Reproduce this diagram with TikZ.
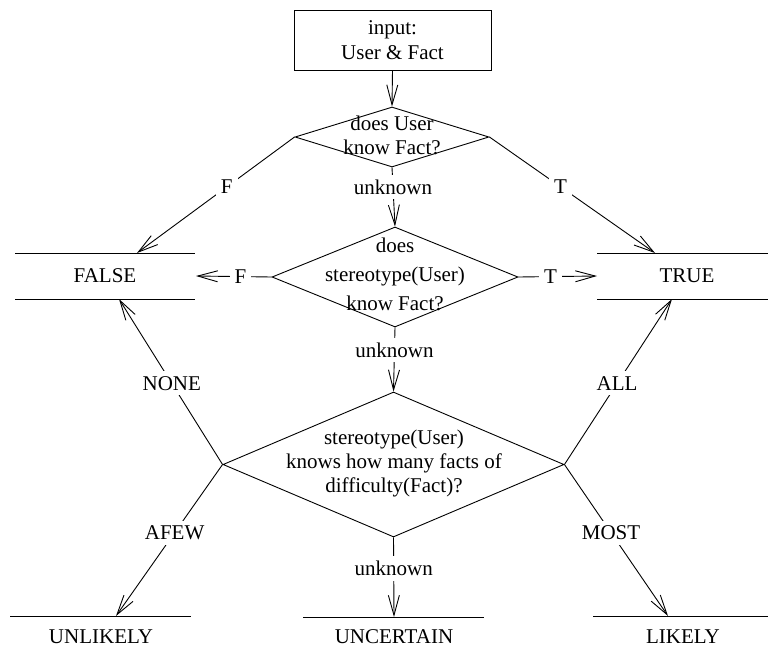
\documentclass[tikz,border=0pt]{standalone}
\usepackage{fontspec}
\setmainfont{Liberation Serif}
\usetikzlibrary{arrows.meta,shapes.geometric}
\begin{document}
\begin{tikzpicture}[x=1pt,y=-1pt,
  every node/.style={font=\fontsize{21}{24}\selectfont},
  ln/.style={line width=0.9pt},
  arr/.style={ln,-{Straight Barb[length=20pt,width=11pt]}},
  dia/.style={draw,ln,diamond,inner sep=0pt},
  txt/.style={align=center,inner sep=0pt},
  lbl/.style={fill=white,inner sep=5pt},
  outc/.style={inner sep=0pt}]
\useasboundingbox (0,0) rectangle (768,659);

% input box
\node[draw,ln,minimum width=197pt,minimum height=60pt,align=center,inner sep=0pt,
  font=\fontsize{21}{25}\selectfont] (inp) at (392.5,40) {input:\\User \& Fact};

% diamonds
\node[dia,minimum width=194pt,minimum height=60pt] (d1) at (392,137) {};
\node[txt] (d1t) at (392,135) {does User\\know Fact?};

\node[dia,minimum width=246pt,minimum height=100pt] (d2) at (395,277) {};
\node[txt,font=\fontsize{21}{29}\selectfont] (d2t) at (395,274) {does\\stereotype(User)\\know Fact?};

\node[dia,minimum width=341pt,minimum height=145pt] (d3) at (393.5,464.5) {};
\node[txt] (d3t) at (394,463) {stereotype(User)\\knows how many facts of\\difficulty(Fact)?};

% outcomes
\node[outc] (fal) at (105,276) {FALSE};
\node[outc] (tru) at (687,276) {TRUE};
\node[outc] (unl) at (101,637) {UNLIKELY};
\node[outc] (unc) at (394,637) {UNCERTAIN};
\node[outc] (lik) at (683,637) {LIKELY};

\coordinate (falTL) at (15,253);  \coordinate (falTR) at (195,253);
\coordinate (falBL) at (15,299);  \coordinate (falBR) at (195,299);
\coordinate (truTL) at (597,253); \coordinate (truTR) at (768,253);
\coordinate (truBL) at (597,299); \coordinate (truBR) at (768,299);
\coordinate (unlL) at (10,616);   \coordinate (unlR) at (191,616);
\coordinate (uncL) at (303,617);  \coordinate (uncR) at (484,617);
\coordinate (likL) at (593,616);  \coordinate (likR) at (768,616);

\draw[ln] (falTL) -- (falTR);
\draw[ln] (falBL) -- (falBR);
\draw[ln] (truTL) -- (truTR);
\draw[ln] (truBL) -- (truBR);
\draw[ln] (unlL) -- (unlR);
\draw[ln] (uncL) -- (uncR);
\draw[ln] (likL) -- (likR);

% connector end points
\coordinate (falT) at (137,253);
\coordinate (falB) at (119,299);
\coordinate (falE) at (196,276);
\coordinate (truT) at (655,253);
\coordinate (truB) at (672,299);
\coordinate (truW) at (597,276);
\coordinate (unlT) at (116,616);
\coordinate (uncT) at (394,617);
\coordinate (likT) at (668,616);

% connectors
\draw[arr] (inp.south) -- (d1.north);
\draw[arr] (d1.south) -- node[lbl,pos=0.33] (l1) {unknown} (d2.north);
\draw[arr] (d1.west) -- node[lbl,pos=0.43] (l2) {F} (falT);
\draw[arr] (d1.east) -- node[lbl,pos=0.43] (l3) {T} (truT);
\draw[arr] (d2.west) -- node[lbl,pos=0.41] (l4) {F} (falE);
\draw[arr] (d2.east) -- node[lbl,pos=0.41] (l5) {T} (truW);
\draw[arr] (d2.south) -- node[lbl,pos=0.35] (l6) {unknown} (d3.north);
\draw[arr] (d3.west) -- node[lbl,pos=0.49] (l7) {NONE} (falB);
\draw[arr] (d3.east) -- node[lbl,pos=0.49] (l8) {ALL} (truB);
\draw[arr] (d3.west) -- node[lbl,pos=0.45] (l9) {AFEW} (unlT);
\draw[arr] (d3.east) -- node[lbl,pos=0.45] (l10) {MOST} (likT);
\draw[arr] (d3.south) -- node[lbl,pos=0.39] (l11) {unknown} (uncT);
\end{tikzpicture}
\end{document}
